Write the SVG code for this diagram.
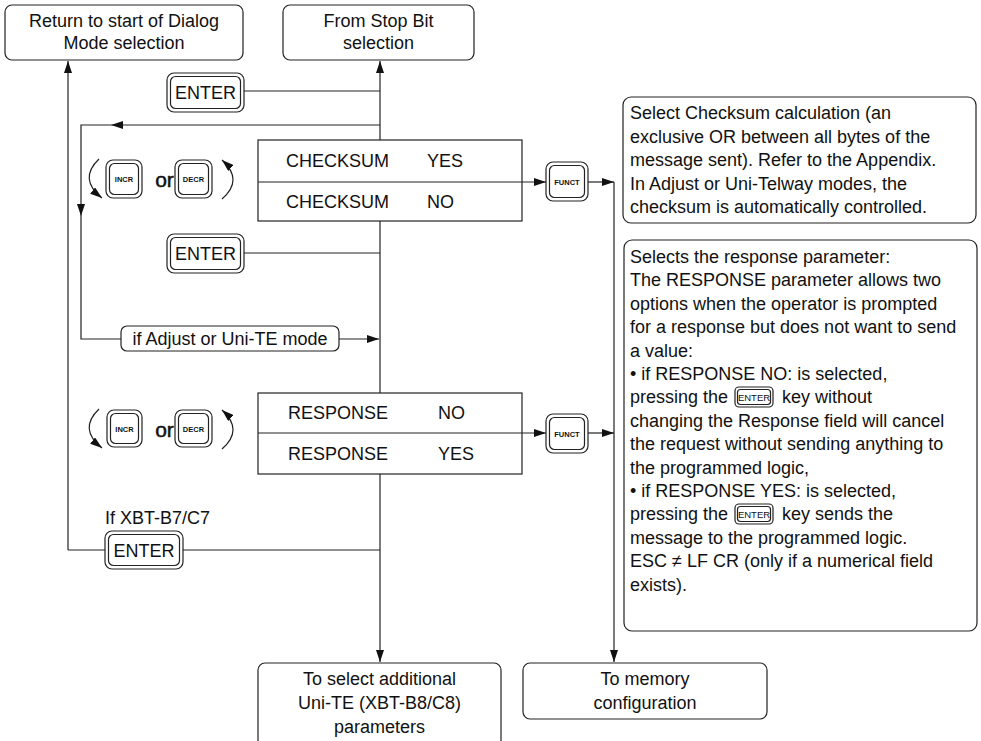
<svg xmlns="http://www.w3.org/2000/svg" width="981" height="741" viewBox="0 0 981 741">
<style>
  .box{fill:#fff;stroke:#222;stroke-width:1.2}
  .ln{fill:none;stroke:#222;stroke-width:1.2}
  .t{font-family:"Liberation Sans",Arial,sans-serif;font-size:18px;fill:#111}
  .c{text-anchor:middle}
  .or{font-family:"Liberation Sans",Arial,sans-serif;font-size:21px;fill:#111;text-anchor:middle;stroke:#111;stroke-width:0.5}
  .k{font-family:"Liberation Sans",Arial,sans-serif;font-size:7.5px;font-weight:bold;fill:#111;text-anchor:middle}
  .kt{font-family:"Liberation Sans",Arial,sans-serif;font-size:18px;fill:#111;text-anchor:middle}
  .ks{font-family:"Liberation Sans",Arial,sans-serif;font-size:9.5px;fill:#111;text-anchor:middle}
  .ah{fill:#111}
</style>
<defs>
  <marker id="arr" viewBox="0 0 12 8" refX="12" refY="4" markerWidth="12" markerHeight="8" markerUnits="userSpaceOnUse" orient="auto">
    <path d="M0,0 L12,4 L0,8 Z" fill="#111"/>
  </marker>
</defs>

<g id="connectors">
  <line class="ln" x1="380" y1="400" x2="380" y2="61" marker-end="url(#arr)"/>
  <line class="ln" x1="380" y1="400" x2="380" y2="662" marker-end="url(#arr)"/>
  <line class="ln" x1="68" y1="550" x2="68" y2="61" marker-end="url(#arr)"/>
  <line class="ln" x1="68" y1="550" x2="380" y2="550"/>
  <line class="ln" x1="244" y1="91" x2="380" y2="91"/>
  <line class="ln" x1="244" y1="253" x2="380" y2="253"/>
  <polyline class="ln" points="380,125 81,125 81,339 121,339"/>
  <polygon class="ah" points="111,125 123,121 123,129"/>
  <polygon class="ah" points="81,216 77,204 85,204"/>
  <line class="ln" x1="339" y1="339" x2="379" y2="339" marker-end="url(#arr)"/>
  <line class="ln" x1="258" y1="182" x2="546" y2="182" marker-end="url(#arr)"/>
  <line class="ln" x1="588" y1="182" x2="614" y2="182" marker-end="url(#arr)"/>
  <line class="ln" x1="614" y1="182" x2="614" y2="662" marker-end="url(#arr)"/>
  <line class="ln" x1="258" y1="433" x2="546" y2="433" marker-end="url(#arr)"/>
  <line class="ln" x1="588" y1="433" x2="614" y2="433" marker-end="url(#arr)"/>
  <path class="ln" d="M99,159 Q78,179 102,198" marker-end="url(#arr)"/>
  <path class="ln" d="M222,199 Q244,180 222,160" marker-end="url(#arr)"/>
  <path class="ln" d="M99,409 Q78,429 102,448" marker-end="url(#arr)"/>
  <path class="ln" d="M222,449 Q244,430 222,410" marker-end="url(#arr)"/>
</g>

<g id="n-return">
  <rect class="box" x="5" y="5" width="238" height="55" rx="7"/>
  <text class="t c" x="124" y="27">Return to start of Dialog</text>
  <text class="t c" x="124" y="49">Mode selection</text>
</g>
<g id="n-stopbit">
  <rect class="box" x="283" y="5" width="191" height="55" rx="7"/>
  <text class="t c" x="378.5" y="27">From Stop Bit</text>
  <text class="t c" x="378.5" y="49">selection</text>
</g>

<g id="k-enter1">
  <rect class="box" x="167" y="73" width="77" height="39" rx="7"/>
  <rect class="box" x="170.5" y="76.5" width="70" height="32" rx="5"/>
  <text class="kt" x="205.5" y="98.5">ENTER</text>
</g>

<g id="k-incr1">
  <rect class="box" x="106" y="160" width="36" height="38" rx="7"/>
  <rect class="box" x="109.5" y="163.5" width="29" height="31" rx="5"/>
  <text class="k" x="124" y="182">INCR</text>
</g>
<text class="or" x="164.5" y="187">or</text>
<g id="k-decr1">
  <rect class="box" x="175" y="160" width="37" height="38" rx="7"/>
  <rect class="box" x="178.5" y="163.5" width="30" height="31" rx="5"/>
  <text class="k" x="193.5" y="182">DECR</text>
</g>

<g id="n-checksum">
  <rect class="box" x="258" y="140" width="264" height="81"/>
  <line class="ln" x1="258" y1="182" x2="522" y2="182"/>
  <text class="t" x="286" y="167">CHECKSUM</text>
  <text class="t" x="427" y="167">YES</text>
  <text class="t" x="286" y="208">CHECKSUM</text>
  <text class="t" x="427" y="208">NO</text>
</g>

<g id="k-funct1">
  <rect class="box" x="546" y="162" width="42" height="39" rx="7"/>
  <rect class="box" x="549.5" y="165.5" width="35" height="32" rx="5"/>
  <text class="k" x="567" y="184.5">FUNCT</text>
</g>

<g id="n-note-checksum">
  <rect class="box" x="623" y="97" width="353" height="126" rx="8"/>
  <text class="t" x="630" y="119">Select Checksum calculation (an</text>
  <text class="t" x="630" y="142.5">exclusive OR between all bytes of the</text>
  <text class="t" x="630" y="166">message sent). Refer to the Appendix.</text>
  <text class="t" x="630" y="189.5">In Adjust or Uni-Telway modes, the</text>
  <text class="t" x="630" y="213">checksum is automatically controlled.</text>
</g>

<g id="k-enter2">
  <rect class="box" x="167" y="234" width="77" height="39" rx="7"/>
  <rect class="box" x="170.5" y="237.5" width="70" height="32" rx="5"/>
  <text class="kt" x="205.5" y="259.5">ENTER</text>
</g>

<g id="n-adjust">
  <rect class="box" x="121" y="326" width="218" height="25" rx="6"/>
  <text class="t c" x="230" y="345">if Adjust or Uni-TE mode</text>
</g>

<g id="k-incr2">
  <rect class="box" x="107" y="410" width="35" height="37" rx="7"/>
  <rect class="box" x="110.5" y="413.5" width="28" height="30" rx="5"/>
  <text class="k" x="124.5" y="431.5">INCR</text>
</g>
<text class="or" x="164.5" y="437">or</text>
<g id="k-decr2">
  <rect class="box" x="175" y="410" width="37" height="37" rx="7"/>
  <rect class="box" x="178.5" y="413.5" width="30" height="30" rx="5"/>
  <text class="k" x="193.5" y="431.5">DECR</text>
</g>

<g id="n-response">
  <rect class="box" x="258" y="393" width="264" height="81"/>
  <line class="ln" x1="258" y1="433" x2="522" y2="433"/>
  <text class="t" x="288" y="419">RESPONSE</text>
  <text class="t" x="438" y="419">NO</text>
  <text class="t" x="288" y="460">RESPONSE</text>
  <text class="t" x="438" y="460">YES</text>
</g>

<g id="k-funct2">
  <rect class="box" x="546" y="414" width="42" height="39" rx="7"/>
  <rect class="box" x="549.5" y="417.5" width="35" height="32" rx="5"/>
  <text class="k" x="567" y="436.5">FUNCT</text>
</g>

<g id="n-note-response">
  <rect class="box" x="624" y="240" width="353" height="391" rx="8"/>
  <text class="t" x="630" y="263">Selects the response parameter:</text>
  <text class="t" x="630" y="286.4">The RESPONSE parameter allows two</text>
  <text class="t" x="630" y="309.8">options when the operator is prompted</text>
  <text class="t" x="630" y="333.2">for a response but does not want to send</text>
  <text class="t" x="630" y="356.6">a value:</text>
  <text class="t" x="630" y="380">• if RESPONSE NO: is selected,</text>
  <text class="t" x="630" y="403.4">pressing the</text>
  <rect class="box" x="735" y="387" width="38" height="20" rx="4"/>
  <rect class="box" x="737.5" y="389.5" width="33" height="15" rx="3"/>
  <text class="ks" x="754" y="400.5">ENTER</text>
  <text class="t" x="782" y="403.4">key without</text>
  <text class="t" x="630" y="426.8">changing the Response field will cancel</text>
  <text class="t" x="630" y="450.2">the request without sending anything to</text>
  <text class="t" x="630" y="473.6">the programmed logic,</text>
  <text class="t" x="630" y="497">• if RESPONSE YES: is selected,</text>
  <text class="t" x="630" y="520.4">pressing the</text>
  <rect class="box" x="735" y="504" width="38" height="20" rx="4"/>
  <rect class="box" x="737.5" y="506.5" width="33" height="15" rx="3"/>
  <text class="ks" x="754" y="517.5">ENTER</text>
  <text class="t" x="782" y="520.4">key sends the</text>
  <text class="t" x="630" y="543.8">message to the programmed logic.</text>
  <text class="t" x="630" y="567.2">ESC ≠ LF CR (only if a numerical field</text>
  <text class="t" x="630" y="590.6">exists).</text>
</g>

<g id="n-xbt">
  <text class="t" x="105" y="524">If XBT-B7/C7</text>
  <rect class="box" x="105" y="531" width="78" height="38" rx="7"/>
  <rect class="box" x="108.5" y="534.5" width="71" height="31" rx="5"/>
  <text class="kt" x="144" y="556.5">ENTER</text>
</g>

<g id="n-additional">
  <rect class="box" x="258" y="663" width="243" height="84" rx="7"/>
  <text class="t c" x="379.5" y="685">To select additional</text>
  <text class="t c" x="379.5" y="709">Uni-TE (XBT-B8/C8)</text>
  <text class="t c" x="379.5" y="733">parameters</text>
</g>
<g id="n-memory">
  <rect class="box" x="523" y="663" width="244" height="56" rx="7"/>
  <text class="t c" x="645" y="685">To memory</text>
  <text class="t c" x="645" y="709">configuration</text>
</g>
</svg>
